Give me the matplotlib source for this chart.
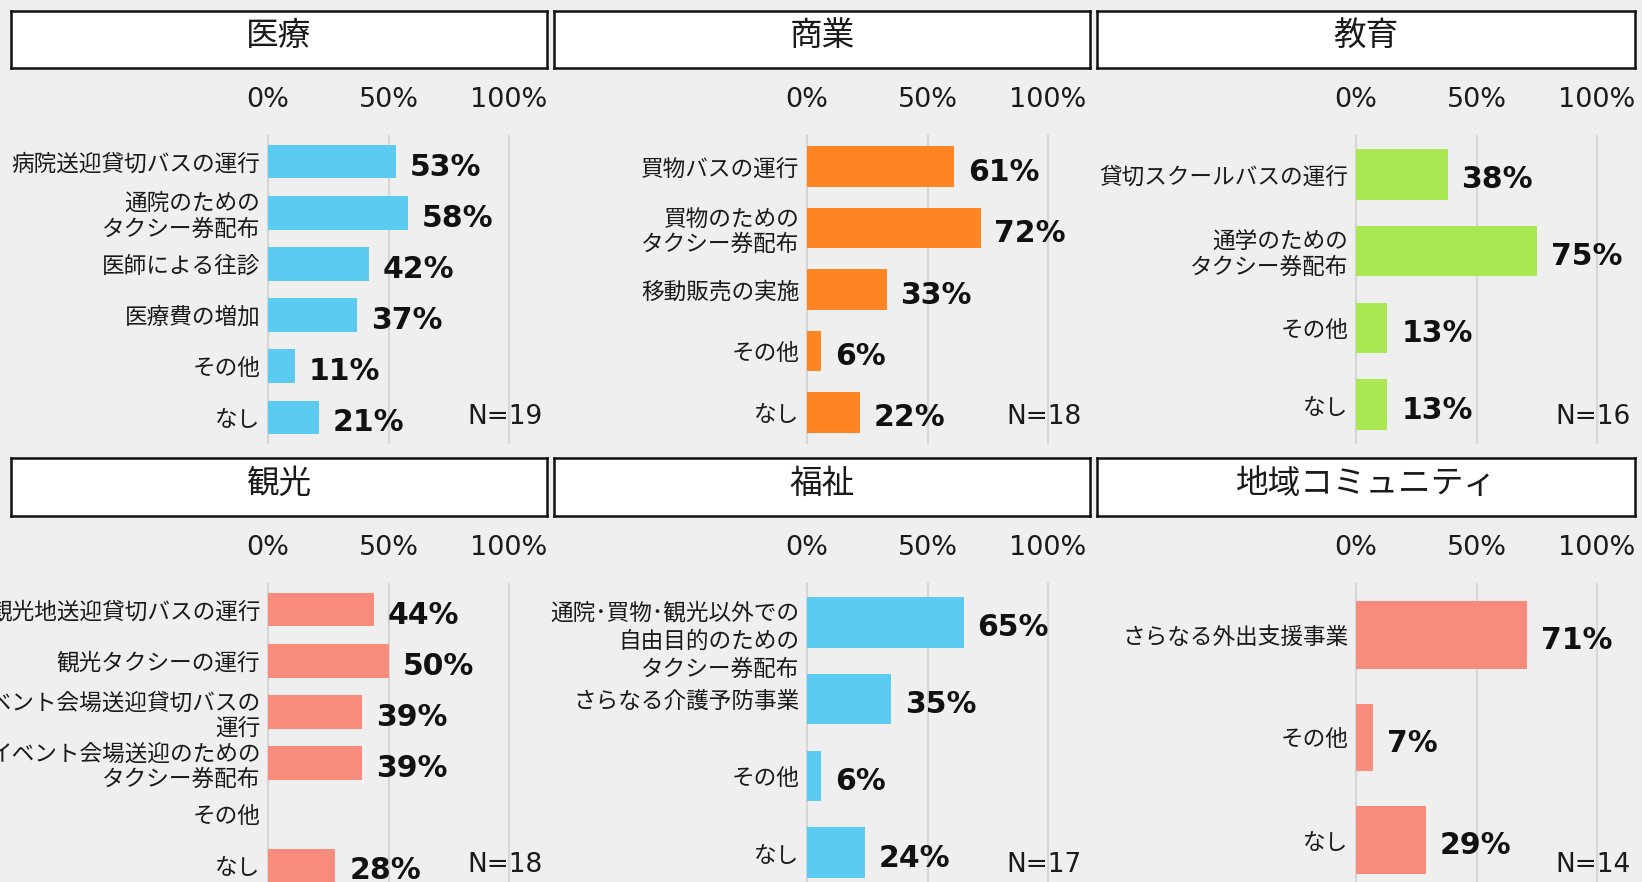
import matplotlib
matplotlib.use("Agg")
import matplotlib.pyplot as plt
import matplotlib.transforms as mtransforms
import numpy as np

# ---- data ----
TITLES = ["医療", "商業", "教育", "観光", "福祉", "地域コミュニティ"]
N_COUNTS = [19, 18, 16, 18, 17, 14]

CATS_MED = ["病院送迎貸切バスの運行", "通院のための\nタクシー券配布", "医師による往診", "医療費の増加", "その他", "なし"]
VALS_MED = [53, 58, 42, 37, 11, 21]

CATS_COM = ["買物バスの運行", "買物のための\nタクシー券配布", "移動販売の実施", "その他", "なし"]
VALS_COM = [61, 72, 33, 6, 22]

CATS_EDU = ["貸切スクールバスの運行", "通学のための\nタクシー券配布", "その他", "なし"]
VALS_EDU = [38, 75, 13, 13]

CATS_TOU = ["観光地送迎貸切バスの運行", "観光タクシーの運行", "イベント会場送迎貸切バスの\n運行",
            "イベント会場送迎のための\nタクシー券配布", "その他", "なし"]
VALS_TOU = [44, 50, 39, 39, None, 28]  # その他: no bar in the source

CATS_WEL = ["通院･買物･観光以外での\n自由目的のための\nタクシー券配布", "さらなる介護予防事業", "その他", "なし"]
VALS_WEL = [65, 35, 6, 24]

CATS_COMMU = ["さらなる外出支援事業", "その他", "なし"]
VALS_COMMU = [71, 7, 29]

TICKS = [0, 50, 100]
TICK_LABELS = ["0%", "50%", "100%"]

BLUE, ORANGE, GREEN, SALMON = "#5BCBF2", "#FF8424", "#A9E852", "#F78C7D"
PANELS = [
    (CATS_MED, VALS_MED, BLUE),
    (CATS_COM, VALS_COM, ORANGE),
    (CATS_EDU, VALS_EDU, GREEN),
    (CATS_TOU, VALS_TOU, SALMON),
    (CATS_WEL, VALS_WEL, BLUE),
    (CATS_COMMU, VALS_COMMU, SALMON),
]

JP = ["Noto Sans CJK JP", "DejaVu Sans"]
BG = "#EFEFEF"
W, H = 1642, 882

fig = plt.figure(figsize=(W / 100, H / 100), dpi=100, facecolor=BG)

# pixel layout of the source (left edge of 0%, width to 100%; axis top/bottom rows)
AX_LEFT = [268, 807, 1356]
AX_W = 241
ROW_TOP = [136, 584]
ROW_H = 307
BOX_X = [(10.5, 547), (554, 1090), (1097, 1635)]
BOX_Y = [(10.5, 68), (458, 516)]

for i, (cats, vals, color) in enumerate(PANELS):
    row, col = divmod(i, 3)

    # ---- title box ----
    bx0, bx1 = BOX_X[col]
    by0, by1 = BOX_Y[row]
    tb = fig.add_axes([bx0 / W, 1 - by1 / H, (bx1 - bx0) / W, (by1 - by0) / H])
    tb.set_facecolor("white")
    tb.set_xticks([])
    tb.set_yticks([])
    for s in tb.spines.values():
        s.set_linewidth(1.8)
        s.set_color("#111111")
    tb.text(0.5, 0.55, TITLES[i], ha="center", va="center", fontsize=23.5,
            family=JP, color="#1a1a1a", transform=tb.transAxes)

    # ---- bars ----
    top = ROW_TOP[row]
    ax = fig.add_axes([AX_LEFT[col] / W, 1 - (top + ROW_H) / H, AX_W / W, ROW_H / H])
    ax.set_facecolor("none")
    y = np.arange(len(cats))
    widths = [0 if v is None else v for v in vals]
    ax.barh(y, widths, height=0.66, color=color, zorder=2)
    for yy, v in zip(y, vals):
        if v is None:
            continue
        ax.annotate(f"{v}%", (v, yy), xytext=(10, -4), textcoords="offset points",
                    ha="left", va="center", fontsize=21.5, fontweight="bold",
                    family="DejaVu Sans", color="#111111")
    for t in TICKS:
        ax.axvline(t, color="#D6D6D6", lw=1.5, zorder=0, clip_on=False)
    ax.set_xlim(0, 100)
    ax.set_ylim(len(cats) - 0.5, -0.5)

    ax.xaxis.tick_top()
    ax.set_xticks(TICKS)
    ax.set_xticklabels(TICK_LABELS, fontsize=19.5, family="DejaVu Sans", color="#1a1a1a")
    ax.tick_params(axis="x", length=0, pad=16.5)
    ax.set_yticks(y)
    ax.set_yticklabels(cats, fontsize=16.3, family=JP, color="#1a1a1a", linespacing=1.12)
    ax.tick_params(axis="y", length=0, pad=5.5)
    # three-line labels sit a little lower and looser in the source
    for lab in ax.get_yticklabels():
        if lab.get_text().count("\n") >= 2:
            lab.set_linespacing(1.28)
            lab.set_transform(lab.get_transform() + mtransforms.ScaledTranslation(
                0, -10 / 72, fig.dpi_scale_trans))
    for s in ax.spines.values():
        s.set_visible(False)

    ax.text(113.8, 0.085, f"N={N_COUNTS[i]}", transform=ax.get_xaxis_transform(),
            ha="right", va="center", fontsize=19, family="DejaVu Sans", color="#1a1a1a",
            clip_on=False)

fig.savefig("out.png", dpi=100, facecolor=BG)
